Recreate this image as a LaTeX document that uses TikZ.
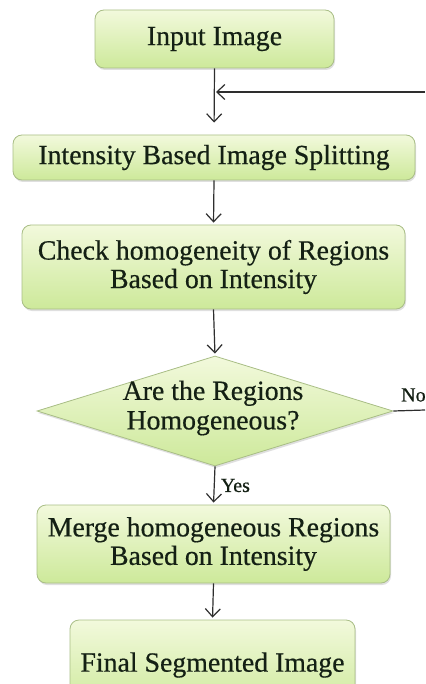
\documentclass[tikz,border=0pt]{standalone}
\usepackage{fontspec}
\setmainfont{Liberation Serif}
\newfontfamily\boxfont{Liberation Serif}[FakeBold=0.5]
\usetikzlibrary{arrows.meta,shapes.geometric,shadows}
\definecolor{fillTop}{HTML}{F2F9DC}
\definecolor{fillBot}{HTML}{CDE99A}
\definecolor{edgeC}{HTML}{A9BE86}
\definecolor{lineC}{HTML}{2E2E2E}
\definecolor{txtC}{HTML}{142014}
\begin{document}
\begin{tikzpicture}[x=1pt,y=-1pt,
  boxstyle/.style={rectangle, rounded corners=9pt, draw=edgeC, line width=0.8pt,
    top color=fillTop, bottom color=fillBot, text=txtC, align=center,
    font=\boxfont\fontsize{27.8}{28.5}\selectfont, inner sep=0pt,
    drop shadow={shadow xshift=1pt, shadow yshift=-2pt, opacity=0.25}},
  decstyle/.style={diamond, draw=edgeC, line width=0.8pt, inner sep=0pt,
    top color=fillTop, bottom color=fillBot,
    drop shadow={shadow xshift=1pt, shadow yshift=-2pt, opacity=0.25}},
  arr/.style={draw=lineC, line width=1.2pt, -{Straight Barb[length=8pt,width=15pt,line width=1.2pt]}, shorten >=2pt},
  plain/.style={draw=lineC, line width=1.2pt},
  lbl/.style={font=\boxfont\fontsize{20}{22}\selectfont, text=txtC, inner sep=0pt}
]
\useasboundingbox (0,0) rectangle (425,684);
\fill[white] (0,0) rectangle (425,684);

\node[boxstyle, minimum width=239pt, minimum height=58pt] (b1) at (214.5,39) {Input Image};
\node[boxstyle, minimum width=402pt, minimum height=45pt] (b2) at (214,157.5) {Intensity Based Image Splitting};
\node[boxstyle, minimum width=383pt, minimum height=84pt] (b3) at (213.5,267) {Check homogeneity of Regions\\Based on Intensity};
\node[decstyle, minimum width=356pt, minimum height=110pt] (dec) at (215,411) {};
\node[text=txtC, align=center, font=\boxfont\fontsize{27.8}{29.5}\selectfont, inner sep=0pt] (dectext) at (213,408) {Are the Regions\\Homogeneous?};
\node[boxstyle, minimum width=353pt, minimum height=78pt] (b4) at (213.5,544) {Merge homogeneous Regions\\Based on Intensity};
\node[boxstyle, minimum width=285pt, minimum height=90pt] (b5) at (212.5,665) {Final Segmented Image};

\coordinate (fbR) at (425,92);
\coordinate (fbL) at (214,92);
\coordinate (noR) at (425,410);

\draw[arr, shorten >=12pt] (b1.south) -- (b2.north);
\draw[arr] (fbR) -- (fbL);
\draw[arr] (b2.south) -- (b3.north);
\draw[arr] (b3.south) -- (dec.north);
\draw[arr] (dec.south) -- node[lbl, anchor=west, xshift=6pt] (yes) {Yes} (b4.north);
\draw[arr] (b4.south) -- (b5.north);
\draw[plain] (dec.east) -- (noR);
\node[lbl, anchor=west] (no) at (401,395) {No};
\end{tikzpicture}
\end{document}
